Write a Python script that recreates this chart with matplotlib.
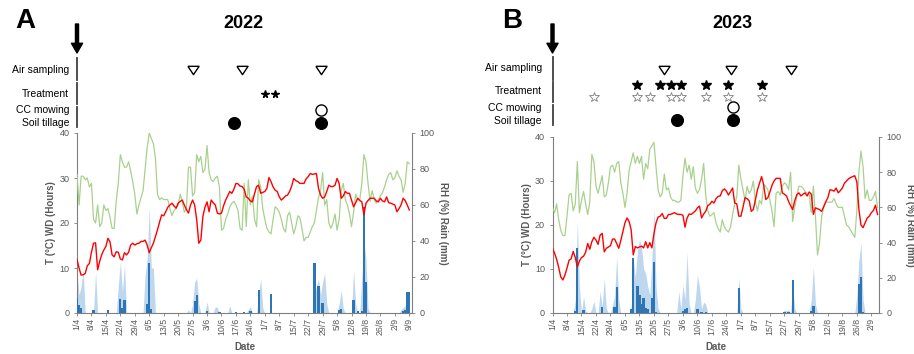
import numpy as np
import matplotlib
matplotlib.use('Agg')
import matplotlib.pyplot as plt

plt.rcParams['font.family'] = ['Liberation Sans', 'DejaVu Sans']

W, H = 914, 354
GREY = '#595959'

# ---- 2022 (day 0 = 1 April) ----
temp_2022 = [11.9, 10.0, 8.4, 8.5, 8.8, 10.5, 11.0, 13.5, 15.5, 15.6,
             9.6, 11.5, 13.0, 14.0, 14.8, 16.6, 15.8, 12.9, 12.5, 13.6,
             13.5, 12.0, 11.8, 13.4, 12.9, 13.5, 15.1, 15.5, 15.1, 15.4,
             15.5, 15.9, 15.9, 16.2, 15.1, 13.4, 14.5, 15.5, 17.0, 18.5,
             20.2, 21.8, 21.6, 22.5, 23.5, 24.0, 24.4, 23.8, 23.3, 24.4,
             24.8, 25.1, 24.0, 23.0, 22.2, 24.0, 25.1, 24.0, 20.7, 15.5,
             16.2, 21.5, 23.5, 24.7, 22.5, 25.1, 24.5, 24.0, 22.2, 22.0,
             22.2, 23.8, 25.1, 26.0, 27.0, 26.6, 27.5, 28.8, 28.7, 28.2,
             28.1, 27.5, 25.8, 25.5, 24.9, 24.7, 26.5, 28.1, 28.4, 26.6,
             26.8, 27.0, 27.7, 30.1, 29.2, 28.0, 27.3, 27.0, 25.8, 25.1,
             25.5, 26.0, 26.2, 27.0, 28.2, 29.9, 29.4, 29.2, 28.8, 28.8,
             28.8, 29.8, 30.3, 31.0, 30.8, 30.9, 31.0, 27.7, 26.2, 25.5,
             25.8, 27.0, 28.4, 28.1, 28.1, 28.4, 29.9, 28.8, 25.5, 26.0,
             27.0, 26.6, 26.6, 25.1, 23.6, 24.5, 25.5, 25.0, 24.7, 21.8,
             24.4, 25.0, 25.5, 25.5, 25.5, 24.9, 24.7, 25.5, 24.9, 24.7,
             25.8, 24.5, 24.4, 24.2, 24.0, 22.5, 23.2, 24.0, 25.5, 25.0,
             24.0, 22.9]
rh_2022 = [77, 60, 76, 76, 74, 75, 70, 72, 52, 50,
           60, 48, 50, 60, 57, 58, 53, 47, 47, 62,
           72, 88, 84, 81, 81, 84, 79, 73, 66, 55,
           60, 64, 68, 80, 92, 100, 97, 94, 86, 66,
           63, 64, 63, 63, 63, 58, 54, 57, 58, 60,
           66, 62, 56, 58, 81, 81, 65, 67, 88, 84,
           87, 78, 80, 93, 78, 74, 73, 75, 76, 70,
           46, 47, 52, 55, 59, 61, 62, 60, 57, 47,
           46, 72, 48, 74, 60, 65, 52, 48, 74, 70,
           58, 52, 47, 45, 44, 52, 59, 58, 56, 52,
           47, 45, 54, 56, 50, 44, 48, 54, 53, 47,
           40, 42, 42, 45, 48, 50, 57, 64, 68, 78,
           60, 63, 50, 47, 50, 55, 46, 52, 68, 72,
           63, 60, 55, 48, 56, 66, 63, 63, 72, 88,
           84, 72, 62, 68, 63, 61, 63, 65, 67, 70,
           74, 77, 78, 74, 75, 79, 76, 74, 67, 72,
           84, 83]
rain_days_2022 = [0, 1, 2, 8, 15, 21, 22, 23, 34, 35, 36, 57, 58, 63, 69, 77, 81,
                  84, 88, 94, 115, 117, 119, 127, 128, 134, 136, 138, 139, 140,
                  158, 159, 160, 161]
rain_mm_2022 = [8.1, 4.4, 2.6, 1.7, 1.5, 8.0, 3.0, 7.0, 5.0, 28.0, 2.4, 6.7, 9.8,
                1.2, 0.8, 0.7, 0.6, 1.2, 13.0, 10.6, 28.0, 15.2, 5.7, 1.5, 2.5,
                7.1, 1.2, 1.0, 59.0, 17.0, 1.3, 1.5, 11.6, 11.6]
wd_days_2022 = [0, 1, 2, 3, 9, 20, 21, 22, 23, 33, 34, 35, 36, 37, 54, 56, 57, 58,
                59, 63, 67, 68, 74, 83, 84, 88, 89, 90, 115, 116, 117, 118, 119,
                120, 121, 127, 128, 129, 134, 135, 138, 139, 140, 141, 157, 158,
                159, 160, 161]
wd_h_2022 = [9.0, 4.0, 6.0, 9.5, 9.3, 6.0, 11.4, 4.7, 10.7, 8.4, 12.0, 23.6, 10.0,
             10.0, 0.7, 2.0, 6.9, 7.7, 2.0, 2.5, 1.4, 1.2, 1.6, 0.8, 1.4, 4.0, 7.7,
             1.0, 3.0, 6.0, 7.5, 4.0, 7.0, 8.8, 2.0, 2.0, 5.0, 1.0, 9.5, 2.0, 8.0,
             16.0, 12.0, 1.0, 0.7, 1.2, 1.5, 4.0, 3.0]
air_2022 = [56, 80, 118]
treat_2022 = [91, 96]
mow_2022 = [118]
till_2022 = [76, 118]
ticks_2022 = ['1/4', '8/4', '15/4', '22/4', '29/4', '6/5', '13/5', '20/5', '27/5',
              '3/6', '10/6', '17/6', '24/6', '1/7', '8/7', '15/7', '22/7', '29/7',
              '5/8', '12/8', '19/8', '26/8', '2/9', '9/9']

# ---- 2023 (day 0 = 1 April) ----
temp_2023 = [14.7, 13.6, 12.2, 10.3, 8.2, 7.5, 8.6, 10.2, 12.0, 12.3,
             14.0, 12.6, 10.5, 11.8, 12.6, 12.9, 13.8, 15.8, 14.5, 16.2,
             17.2, 16.6, 15.6, 17.7, 18.1, 13.9, 14.7, 15.0, 15.3, 16.8,
             16.8, 15.8, 14.7, 16.5, 18.5, 20.5, 21.6, 20.8, 18.9, 13.2,
             15.1, 14.8, 15.0, 15.2, 14.8, 16.2, 14.8, 16.0, 14.8, 18.0,
             20.5, 21.8, 22.0, 22.6, 21.5, 21.5, 22.4, 22.4, 22.6, 22.8,
             22.5, 22.4, 22.4, 22.2, 19.5, 21.6, 22.5, 22.4, 22.8, 23.2,
             23.9, 24.3, 21.6, 22.5, 23.1, 24.4, 24.7, 25.4, 25.0, 26.0,
             26.5, 26.6, 27.8, 28.2, 27.7, 26.8, 27.6, 28.4, 25.0, 24.8,
             22.0, 22.0, 24.0, 26.2, 26.0, 25.5, 23.1, 23.5, 25.8, 28.0,
             29.5, 31.0, 29.1, 25.8, 26.2, 27.5, 29.0, 30.0, 30.6, 30.6,
             30.6, 27.3, 27.0, 26.6, 25.4, 24.4, 23.5, 25.5, 26.9, 27.3,
             26.6, 27.0, 27.3, 26.6, 27.5, 27.0, 22.4, 23.9, 23.7, 23.5,
             23.1, 24.2, 25.3, 26.2, 28.0, 27.9, 27.7, 28.4, 27.3, 27.8,
             28.4, 29.5, 30.0, 30.5, 30.8, 31.0, 31.2, 29.8, 23.5, 20.0,
             19.4, 20.5, 21.6, 22.0, 22.8, 23.3, 24.5, 22.4]
rh_2023 = [60, 57, 62, 53, 47, 44, 44, 55, 67, 68,
           58, 62, 86, 57, 64, 69, 62, 56, 63, 90,
           86, 72, 68, 73, 78, 66, 67, 74, 83, 84,
           80, 85, 86, 74, 68, 60, 68, 81, 86, 91,
           85, 89, 85, 89, 76, 85, 82, 93, 95, 97,
           83, 70, 66, 68, 79, 70, 71, 66, 64, 64,
           63, 63, 64, 78, 88, 80, 84, 76, 83, 71,
           68, 70, 76, 85, 67, 58, 55, 56, 57, 51,
           48, 46, 53, 49, 47, 46, 49, 56, 62, 66,
           84, 76, 70, 64, 72, 68, 70, 75, 63, 58,
           64, 62, 73, 72, 70, 64, 58, 49, 68, 69,
           67, 72, 74, 73, 70, 80, 52, 60, 66, 72,
           72, 71, 69, 68, 67, 57, 72, 55, 33, 40,
           55, 60, 63, 63, 63, 63, 65, 62, 60, 60,
           60, 55, 50, 49, 47, 45, 43, 58, 80, 92,
           83, 65, 70, 64, 64, 66, 69, 60]
rain_days_2023 = [11, 12, 15, 24, 30, 31, 38, 39, 41, 42, 43, 44, 45, 46, 48, 49,
                  50, 63, 64, 65, 70, 72, 74, 90, 112, 114, 116, 125, 126, 148,
                  149, 150]
rain_mm_2023 = [1.2, 36.8, 1.7, 3.2, 3.5, 15.0, 2.0, 31.0, 15.5, 10.0, 5.0, 8.5,
                2.8, 2.4, 8.5, 29.0, 0.6, 1.2, 2.0, 3.0, 2.2, 0.4, 0.4, 14.2, 0.6,
                0.6, 19.0, 1.0, 4.0, 16.5, 20.6, 0.5]
wd_days_2023 = [11, 12, 13, 15, 16, 19, 20, 23, 24, 25, 26, 29, 30, 31, 32, 38, 39,
                40, 41, 42, 43, 44, 45, 46, 47, 48, 49, 50, 51, 61, 62, 63, 64, 65,
                66, 69, 70, 71, 72, 73, 74, 90, 91, 112, 113, 114, 116, 117, 125,
                126, 127, 147, 148, 149, 150]
wd_h_2023 = [3.0, 20.8, 6.0, 3.7, 0.5, 1.0, 2.7, 4.9, 1.5, 7.9, 1.0, 1.8, 4.0,
             12.8, 3.0, 1.5, 12.4, 8.0, 14.0, 16.7, 15.0, 10.0, 9.0, 6.0, 4.0,
             12.0, 23.8, 6.0, 1.0, 4.9, 1.0, 6.4, 3.0, 13.7, 2.0, 3.0, 8.6, 5.9,
             1.0, 2.5, 2.0, 8.0, 1.0, 0.7, 0.5, 0.7, 6.4, 1.0, 3.0, 10.6, 2.0,
             4.0, 12.0, 15.9, 3.0]
air_2023 = [54, 86, 115]
treat_2023 = [41, 52, 57, 62, 74, 85, 101]
ctrl_2023 = [20, 41, 47, 57, 62, 74, 85, 101]
mow_2023 = [87]
till_2023 = [60, 87]
ticks_2023 = ticks_2022[:-1]

TRI = [(-1, 0.75), (1, 0.75), (0, -0.75), (-1, 0.75)]


def px(x, y, w, h):
    # pixel box (left, top, width, height) -> figure fraction
    return [x / W, 1 - (y + h) / H, w / W, h / H]


def panel(fig, left, top, width, xmax, temp, rh, rain_days, rain_mm,
          wd_days, wd_h, labels):
    ax = fig.add_axes(px(left, top, width, 313 - top))
    ax2 = ax.twinx()
    days = np.arange(len(temp))
    wd = np.zeros(len(temp))
    wd[wd_days] = wd_h

    ax.fill_between(days, wd, color='#BDD7EE', lw=0)
    ax2.bar(rain_days, rain_mm, width=1.1, color='#2E75B6', lw=0)
    ax2.plot(days, rh, color='#A9D18E', lw=0.9)
    ax2.plot(days, temp, color='#FF0000', lw=1.0, transform=ax.transData)

    ax.set_xlim(0, xmax)
    ax.set_ylim(0, 40)
    ax2.set_ylim(0, 100)
    ax.set_yticks([0, 10, 20, 30, 40])
    ax2.set_yticks([0, 20, 40, 60, 80, 100])
    ax.set_xticks(np.arange(len(labels)) * 7)
    ax.set_xticklabels(labels, rotation=90)

    for a in (ax, ax2):
        a.spines['top'].set_visible(False)
        for s in a.spines.values():
            s.set_color('#7F7F7F')
            s.set_linewidth(0.8)
    ax.spines['right'].set_visible(False)
    ax2.spines['left'].set_visible(False)
    ax2.spines['bottom'].set_visible(False)

    ax.tick_params(axis='x', labelsize=6.3, labelcolor=GREY, color='#7F7F7F',
                   length=2.5, width=0.6, pad=1)
    for a in (ax, ax2):
        a.tick_params(axis='y', labelsize=6.5, labelcolor=GREY, color='#7F7F7F',
                      length=2.5, width=0.6, pad=3)

    ax.set_ylabel('T (°C) WD (Hours)', fontsize=7, fontweight='bold',
                  color=GREY, va='center')
    ax.yaxis.set_label_coords(-26.0 / width, 0.5)
    ax2.set_ylabel('RH (%) Rain (mm)', fontsize=7, fontweight='bold',
                   color=GREY, rotation=270, va='center')
    ax2.yaxis.set_label_coords(1 + 31.0 / width, 0.5)
    ax.set_xlabel('Date', fontsize=7, fontweight='bold', color=GREY, va='center')
    ax.xaxis.set_label_coords(0.5, -34.5 / (313 - top))

    ann = fig.add_axes(px(left, 20, width, 110))
    ann.set_xlim(0, xmax)
    ann.set_ylim(130, 20)
    ann.axis('off')
    ann.annotate('', xy=(0, 53), xytext=(0, 24), annotation_clip=False,
                 arrowprops=dict(facecolor='black', edgecolor='black', width=2.2,
                                 headwidth=8, headlength=7, shrink=0))
    return ann


fig = plt.figure(figsize=(W / 100, H / 100), dpi=100)

# panel A
annA = panel(fig, 77, 133, 335, 162.3, temp_2022, rh_2022, rain_days_2022,
             rain_mm_2022, wd_days_2022, wd_h_2022, ticks_2022)
for y0, y1 in [(58, 80), (83, 104), (107, 127)]:
    annA.plot([0, 0], [y0, y1], color='#404040', lw=1.3, clip_on=False)
annA.plot(air_2022, [70] * len(air_2022), ls='none', marker=TRI, ms=8,
          mfc='white', mec='black', mew=1, clip_on=False)
annA.plot(treat_2022, [93.5] * len(treat_2022), ls='none', marker='*', ms=5.5,
          color='black', clip_on=False)
annA.plot(mow_2022, [110] * len(mow_2022), ls='none', marker='o', ms=8,
          mfc='white', mec='black', mew=1, clip_on=False)
annA.plot(till_2022, [122.7] * len(till_2022), ls='none', marker='o', ms=8.4,
          color='black', clip_on=False)
for text, y in [('Air sampling', 70), ('Treatment', 94), ('CC mowing', 110),
                ('Soil tillage', 122.7)]:
    fig.text(69 / W, 1 - y / H, text, ha='right', va='center', fontsize=7.5)
fig.text(25 / W, 1 - 20.5 / H, 'A', ha='center', va='center', fontsize=20,
         fontweight='bold')
fig.text(243.7 / W, 1 - 23.5 / H, '2022', ha='center', va='center', fontsize=13,
         fontweight='bold')

# panel B
annB = panel(fig, 552.5, 137, 326.5, 157.7, temp_2023, rh_2023, rain_days_2023,
             rain_mm_2023, wd_days_2023, wd_h_2023, ticks_2023)
for y0, y1 in [(57, 80), (82, 102), (105, 125)]:
    annB.plot([0, 0], [y0, y1], color='#404040', lw=1.3, clip_on=False)
annB.plot(air_2023, [70] * len(air_2023), ls='none', marker=TRI, ms=8,
          mfc='white', mec='black', mew=1, clip_on=False)
annB.plot(treat_2023, [85] * len(treat_2023), ls='none', marker='*', ms=7,
          color='black', clip_on=False)
annB.plot(ctrl_2023, [97] * len(ctrl_2023), ls='none', marker='*', ms=7,
          mfc='white', mec='#808080', mew=0.6, clip_on=False)
annB.plot(mow_2023, [107] * len(mow_2023), ls='none', marker='o', ms=8,
          mfc='white', mec='black', mew=1, clip_on=False)
annB.plot(till_2023, [119.5] * len(till_2023), ls='none', marker='o', ms=8.4,
          color='black', clip_on=False)
for text, y in [('Air sampling', 68), ('Treatment', 91), ('CC mowing', 108),
                ('Soil tillage', 121)]:
    fig.text(542 / W, 1 - y / H, text, ha='right', va='center', fontsize=7.5)
fig.text(512 / W, 1 - 21.5 / H, 'B', ha='center', va='center', fontsize=20,
         fontweight='bold')
fig.text(732.8 / W, 1 - 23.5 / H, '2023', ha='center', va='center', fontsize=13,
         fontweight='bold')

fig.savefig('out.png', dpi=100)
